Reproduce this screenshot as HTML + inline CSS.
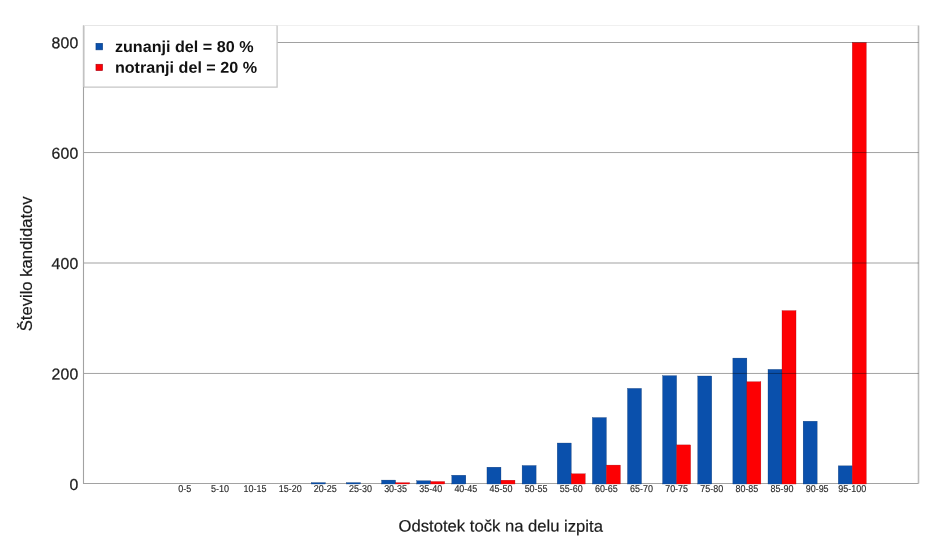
<!DOCTYPE html>
<html lang="sl"><head><meta charset="utf-8"><title>Graf</title>
<style>
html,body{margin:0;padding:0;background:#fff;}
body{width:940px;height:554px;overflow:hidden;}
svg{display:block;font-family:"Liberation Sans",sans-serif;}
</style></head><body>
<svg width="940" height="554" viewBox="0 0 940 554">
<rect width="940" height="554" fill="#fff"/>
<path d="M83.5 25.5H918.5" stroke="#f0f0f0" stroke-width="1" fill="none"/>
<path d="M918.5 25.5V483.5" stroke="#bcbcbc" stroke-width="1.6" fill="none"/>
<path d="M83.5 25.5V483.5H918.5" stroke="#a2a2a2" stroke-width="1.1" fill="none"/>
<rect x="311.32" y="482.62" width="14.00" height="1.38" fill="#0a50ac" stroke="#06306a" stroke-width="0.3"/>
<rect x="346.45" y="482.62" width="14.00" height="1.38" fill="#0a50ac" stroke="#06306a" stroke-width="0.3"/>
<rect x="381.58" y="480.08" width="14.00" height="3.92" fill="#0a50ac" stroke="#06306a" stroke-width="0.3"/>
<rect x="395.58" y="482.67" width="14.00" height="1.33" fill="#fd0003" stroke="#a00010" stroke-width="0.3"/>
<rect x="416.71" y="480.74" width="14.00" height="3.26" fill="#0a50ac" stroke="#06306a" stroke-width="0.3"/>
<rect x="430.71" y="481.52" width="14.00" height="2.48" fill="#fd0003" stroke="#a00010" stroke-width="0.3"/>
<rect x="451.84" y="475.23" width="14.00" height="8.77" fill="#0a50ac" stroke="#06306a" stroke-width="0.3"/>
<rect x="486.97" y="467.18" width="14.00" height="16.82" fill="#0a50ac" stroke="#06306a" stroke-width="0.3"/>
<rect x="500.97" y="480.19" width="14.00" height="3.81" fill="#fd0003" stroke="#a00010" stroke-width="0.3"/>
<rect x="522.10" y="465.53" width="14.00" height="18.47" fill="#0a50ac" stroke="#06306a" stroke-width="0.3"/>
<rect x="557.23" y="443.04" width="14.00" height="40.96" fill="#0a50ac" stroke="#06306a" stroke-width="0.3"/>
<rect x="571.23" y="473.80" width="14.00" height="10.20" fill="#fd0003" stroke="#a00010" stroke-width="0.3"/>
<rect x="592.36" y="417.57" width="14.00" height="66.43" fill="#0a50ac" stroke="#06306a" stroke-width="0.3"/>
<rect x="606.36" y="465.09" width="14.00" height="18.91" fill="#fd0003" stroke="#a00010" stroke-width="0.3"/>
<rect x="627.49" y="388.41" width="14.00" height="95.59" fill="#0a50ac" stroke="#06306a" stroke-width="0.3"/>
<rect x="662.62" y="375.68" width="14.00" height="108.32" fill="#0a50ac" stroke="#06306a" stroke-width="0.3"/>
<rect x="676.62" y="444.91" width="14.00" height="39.09" fill="#fd0003" stroke="#a00010" stroke-width="0.3"/>
<rect x="697.75" y="376.01" width="14.00" height="107.99" fill="#0a50ac" stroke="#06306a" stroke-width="0.3"/>
<rect x="732.88" y="358.09" width="14.00" height="125.91" fill="#0a50ac" stroke="#06306a" stroke-width="0.3"/>
<rect x="746.88" y="381.74" width="14.00" height="102.26" fill="#fd0003" stroke="#a00010" stroke-width="0.3"/>
<rect x="768.01" y="369.39" width="14.00" height="114.61" fill="#0a50ac" stroke="#06306a" stroke-width="0.3"/>
<rect x="782.01" y="310.63" width="14.00" height="173.37" fill="#fd0003" stroke="#a00010" stroke-width="0.3"/>
<rect x="803.14" y="421.21" width="14.00" height="62.79" fill="#0a50ac" stroke="#06306a" stroke-width="0.3"/>
<rect x="838.27" y="465.86" width="14.00" height="18.14" fill="#0a50ac" stroke="#06306a" stroke-width="0.3"/>
<rect x="852.27" y="42.50" width="14.00" height="441.50" fill="#fd0003" stroke="#a00010" stroke-width="0.3"/>
<path d="M84.0 373.45H918.5" stroke="rgba(0,0,0,0.37)" stroke-width="1" fill="none"/>
<path d="M84.0 263.00H918.5" stroke="rgba(0,0,0,0.37)" stroke-width="1" fill="none"/>
<path d="M84.0 152.55H918.5" stroke="rgba(0,0,0,0.37)" stroke-width="1" fill="none"/>
<path d="M84.0 42.50H918.5" stroke="rgba(0,0,0,0.37)" stroke-width="1" fill="none"/>
<text x="78.4" y="489.90" font-size="15.8" letter-spacing="0.15" text-anchor="end" fill="#1c1c1c" stroke="#1c1c1c" stroke-width="0.25" transform="rotate(0.03 78 489.90)">0</text>
<text x="78.4" y="379.50" font-size="15.8" letter-spacing="0.15" text-anchor="end" fill="#1c1c1c" stroke="#1c1c1c" stroke-width="0.25" transform="rotate(0.03 78 379.50)">200</text>
<text x="78.4" y="269.10" font-size="15.8" letter-spacing="0.15" text-anchor="end" fill="#1c1c1c" stroke="#1c1c1c" stroke-width="0.25" transform="rotate(0.03 78 269.10)">400</text>
<text x="78.4" y="158.70" font-size="15.8" letter-spacing="0.15" text-anchor="end" fill="#1c1c1c" stroke="#1c1c1c" stroke-width="0.25" transform="rotate(0.03 78 158.70)">600</text>
<text x="78.4" y="48.30" font-size="15.8" letter-spacing="0.15" text-anchor="end" fill="#1c1c1c" stroke="#1c1c1c" stroke-width="0.25" transform="rotate(0.03 78 48.30)">800</text>
<text x="178.30" y="492.4" font-size="10" textLength="13.0" lengthAdjust="spacingAndGlyphs" fill="#2a2a2a" stroke="#2a2a2a" stroke-width="0.15" transform="rotate(0.03 184.8 492)">0-5</text>
<text x="210.88" y="492.4" font-size="10" textLength="18.1" lengthAdjust="spacingAndGlyphs" fill="#2a2a2a" stroke="#2a2a2a" stroke-width="0.15" transform="rotate(0.03 219.9 492)">5-10</text>
<text x="243.61" y="492.4" font-size="10" textLength="22.9" lengthAdjust="spacingAndGlyphs" fill="#2a2a2a" stroke="#2a2a2a" stroke-width="0.15" transform="rotate(0.03 255.1 492)">10-15</text>
<text x="278.74" y="492.4" font-size="10" textLength="22.9" lengthAdjust="spacingAndGlyphs" fill="#2a2a2a" stroke="#2a2a2a" stroke-width="0.15" transform="rotate(0.03 290.2 492)">15-20</text>
<text x="313.87" y="492.4" font-size="10" textLength="22.9" lengthAdjust="spacingAndGlyphs" fill="#2a2a2a" stroke="#2a2a2a" stroke-width="0.15" transform="rotate(0.03 325.3 492)">20-25</text>
<text x="349.00" y="492.4" font-size="10" textLength="22.9" lengthAdjust="spacingAndGlyphs" fill="#2a2a2a" stroke="#2a2a2a" stroke-width="0.15" transform="rotate(0.03 360.5 492)">25-30</text>
<text x="384.13" y="492.4" font-size="10" textLength="22.9" lengthAdjust="spacingAndGlyphs" fill="#2a2a2a" stroke="#2a2a2a" stroke-width="0.15" transform="rotate(0.03 395.6 492)">30-35</text>
<text x="419.26" y="492.4" font-size="10" textLength="22.9" lengthAdjust="spacingAndGlyphs" fill="#2a2a2a" stroke="#2a2a2a" stroke-width="0.15" transform="rotate(0.03 430.7 492)">35-40</text>
<text x="454.39" y="492.4" font-size="10" textLength="22.9" lengthAdjust="spacingAndGlyphs" fill="#2a2a2a" stroke="#2a2a2a" stroke-width="0.15" transform="rotate(0.03 465.8 492)">40-45</text>
<text x="489.52" y="492.4" font-size="10" textLength="22.9" lengthAdjust="spacingAndGlyphs" fill="#2a2a2a" stroke="#2a2a2a" stroke-width="0.15" transform="rotate(0.03 501.0 492)">45-50</text>
<text x="524.65" y="492.4" font-size="10" textLength="22.9" lengthAdjust="spacingAndGlyphs" fill="#2a2a2a" stroke="#2a2a2a" stroke-width="0.15" transform="rotate(0.03 536.1 492)">50-55</text>
<text x="559.78" y="492.4" font-size="10" textLength="22.9" lengthAdjust="spacingAndGlyphs" fill="#2a2a2a" stroke="#2a2a2a" stroke-width="0.15" transform="rotate(0.03 571.2 492)">55-60</text>
<text x="594.91" y="492.4" font-size="10" textLength="22.9" lengthAdjust="spacingAndGlyphs" fill="#2a2a2a" stroke="#2a2a2a" stroke-width="0.15" transform="rotate(0.03 606.4 492)">60-65</text>
<text x="630.04" y="492.4" font-size="10" textLength="22.9" lengthAdjust="spacingAndGlyphs" fill="#2a2a2a" stroke="#2a2a2a" stroke-width="0.15" transform="rotate(0.03 641.5 492)">65-70</text>
<text x="665.17" y="492.4" font-size="10" textLength="22.9" lengthAdjust="spacingAndGlyphs" fill="#2a2a2a" stroke="#2a2a2a" stroke-width="0.15" transform="rotate(0.03 676.6 492)">70-75</text>
<text x="700.30" y="492.4" font-size="10" textLength="22.9" lengthAdjust="spacingAndGlyphs" fill="#2a2a2a" stroke="#2a2a2a" stroke-width="0.15" transform="rotate(0.03 711.8 492)">75-80</text>
<text x="735.43" y="492.4" font-size="10" textLength="22.9" lengthAdjust="spacingAndGlyphs" fill="#2a2a2a" stroke="#2a2a2a" stroke-width="0.15" transform="rotate(0.03 746.9 492)">80-85</text>
<text x="770.56" y="492.4" font-size="10" textLength="22.9" lengthAdjust="spacingAndGlyphs" fill="#2a2a2a" stroke="#2a2a2a" stroke-width="0.15" transform="rotate(0.03 782.0 492)">85-90</text>
<text x="805.69" y="492.4" font-size="10" textLength="22.9" lengthAdjust="spacingAndGlyphs" fill="#2a2a2a" stroke="#2a2a2a" stroke-width="0.15" transform="rotate(0.03 817.1 492)">90-95</text>
<text x="838.27" y="492.4" font-size="10" textLength="28.0" lengthAdjust="spacingAndGlyphs" fill="#2a2a2a" stroke="#2a2a2a" stroke-width="0.15" transform="rotate(0.03 852.3 492)">95-100</text>
<text x="398.6" y="531.6" font-size="16.5" textLength="204.3" lengthAdjust="spacingAndGlyphs" fill="#1a1a1a" stroke="#1a1a1a" stroke-width="0.2" transform="rotate(0.03 500 531)">Odstotek točk na delu izpita</text>
<text transform="translate(31.8 331.3) rotate(-90)" font-size="16.5" textLength="134.9" lengthAdjust="spacingAndGlyphs" fill="#1a1a1a" stroke="#1a1a1a" stroke-width="0.2">Število kandidatov</text>
<rect x="82.6" y="25" width="194.5" height="62" fill="#fff"/>
<path d="M83.7 25.2V87.1" stroke="#c2c2c2" stroke-width="1.7" fill="none"/>
<path d="M84 25.5H277.1" stroke="#e6e6e6" stroke-width="1" fill="none"/>
<path d="M277.1 25.5V87.1H84" stroke="#c6c6c6" stroke-width="1.3" fill="none"/>
<rect x="96.0" y="43.4" width="6.5" height="6.4" fill="#0a50ac" stroke="#0a3f86" stroke-width="0.7"/>
<rect x="96.0" y="64.3" width="6.4" height="6.2" fill="#fd0003" stroke="#b30012" stroke-width="0.7"/>
<text x="114.9" y="52.1" font-size="15.8" font-weight="bold" fill="#111" textLength="138.6" lengthAdjust="spacingAndGlyphs" transform="rotate(0.03 180 52)">zunanji del = 80 %</text>
<text x="114.9" y="72.8" font-size="15.8" font-weight="bold" fill="#111" textLength="142.2" lengthAdjust="spacingAndGlyphs" transform="rotate(0.03 180 72)">notranji del = 20 %</text>
</svg>
</body></html>
